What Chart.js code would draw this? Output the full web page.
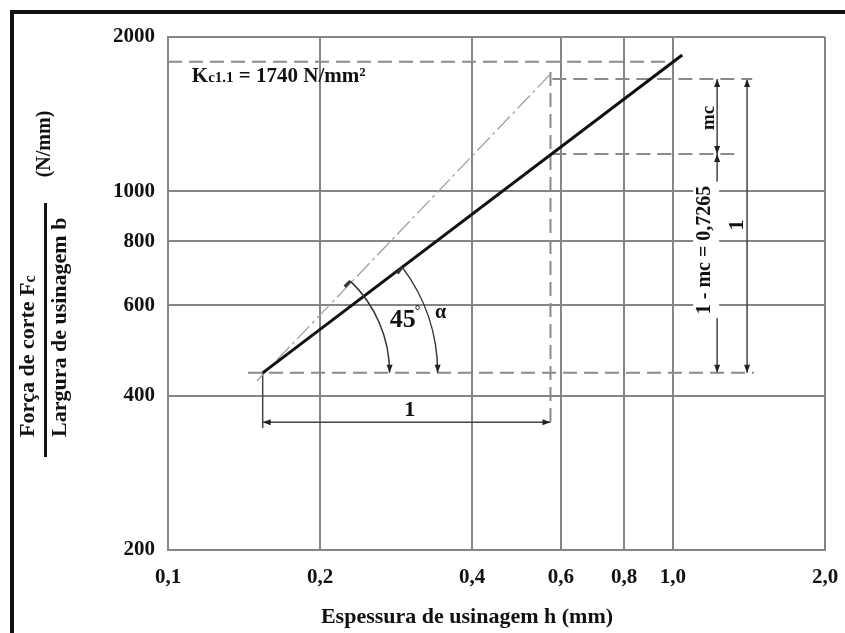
<!DOCTYPE html>
<html>
<head>
<meta charset="utf-8">
<script src="https://cdn.jsdelivr.net/npm/chart.js@4/dist/chart.umd.min.js"></script>
<style>
  html, body { margin: 0; padding: 0; background: #fff; }
  #wrap { width: 845px; height: 633px; }
</style>
</head>
<body>
<div id="wrap"><canvas id="chart" width="845" height="633"></canvas></div>
<script>
// axis ticks
const xTicks = [0.1, 0.2, 0.4, 0.6, 0.8, 1.0, 2.0];
const xTickLabels = ['0,1', '0,2', '0,4', '0,6', '0,8', '1,0', '2,0'];
const yTicks = [200, 400, 600, 800, 1000, 2000];

// main line  Fc/b vs h
const mainH = [0.154, 1.043];
const mainF = [443, 1845];
// 45 deg reference (dash-dot)
const refH = [0.150, 0.577];
const refF = [427, 1709];
// dashed helper lines
const kcH = [0.1, 1.0];        const kcF = [1790, 1790];
const upperH = [0.577, 1.435]; const upperF = [1657, 1657];
const midH = [0.577, 1.358];   const midF = [1183, 1183];
const baseH = [0.144, 1.447];  const baseF = [443, 443];
const vertH = [0.572, 0.572];  const vertF = [1709, 350];
// dimension lines
const dim1H = [1.223, 1.223];  const dim1F = [1657, 443];
const dim2H = [1.402, 1.402];  const dim2F = [1657, 443];
const dim3H = [0.154, 0.572];  const dim3F = [355, 355];
const extH = [0.154, 0.154];   const extF = [443, 346];

// arcs (end point on the base line) and arrows
const arc45End = 0.2747;
const arcAlphaEnd = 0.342;
const arrows = [ // [h, F, direction]
  [0.154, 355, 'left'], [0.572, 355, 'right'],
  [1.223, 1657, 'up'], [1.223, 1183, 'down'], [1.223, 1183, 'up'], [1.223, 443, 'down'],
  [1.402, 1657, 'up'], [1.402, 443, 'down']
];

// annotation texts: [text, h, F, font, rotated]
const notes = [
  ['mc', 1.18, 1391, 'bold 19px "Liberation Serif", serif', true],
  ['1', 1.339, 860, 'bold 22px "Liberation Serif", serif', true],
  ['1', 0.301, 375, 'bold 22px "Liberation Serif", serif', false],
  ['α', 0.3465, 579, 'bold 20px "Liberation Serif", serif', false]
];
const mcNote = ['1 - mc = 0,7265', 1.158, 769];
const degNote = [0.2915, 561];
const kcNote = [0.1115, 1634];

const pts = (xs, ys) => xs.map((v, i) => ({ x: v, y: ys[i] }));
const SERIF = '"Liberation Serif", "DejaVu Serif", serif';
const dashGray = '#8a8a8a';

function line(data, color, width, dash) {
  return {
    data: data, showLine: true, pointRadius: 0, borderColor: color,
    borderWidth: width, borderDash: dash || [], fill: false, tension: 0
  };
}

const extras = {
  id: 'extras',
  beforeDraw(chart) {
    const ctx = chart.ctx;
    ctx.save();
    ctx.fillStyle = '#fff';
    ctx.fillRect(0, 0, chart.width, chart.height);
    ctx.restore();
  },
  afterDatasetsDraw(chart) {
    const ctx = chart.ctx;
    const xs = chart.scales.x, ys = chart.scales.y;
    const X = v => xs.getPixelForValue(v), Y = v => ys.getPixelForValue(v);
    ctx.save();

    // arrows
    function arrow(x, y, dir) {
      const L = 8, W = 3;
      ctx.beginPath();
      ctx.moveTo(x, y);
      if (dir === 'left') { ctx.lineTo(x + L, y - W); ctx.lineTo(x + L, y + W); }
      if (dir === 'right') { ctx.lineTo(x - L, y - W); ctx.lineTo(x - L, y + W); }
      if (dir === 'up') { ctx.lineTo(x - W, y + L); ctx.lineTo(x + W, y + L); }
      if (dir === 'down') { ctx.lineTo(x - W, y - L); ctx.lineTo(x + W, y - L); }
      ctx.closePath();
      ctx.fill();
    }
    ctx.fillStyle = '#222';
    arrows.forEach(a => arrow(X(a[0]), Y(a[1]), a[2]));

    // angle arcs
    const cx = X(mainH[0]), cy = Y(mainF[0]);
    const lineAng = Math.atan2(Y(mainF[1]) - cy, X(mainH[1]) - cx);
    const refAng = Math.atan2(Y(refF[1]) - Y(refF[0]), X(refH[1]) - X(refH[0]));
    ctx.strokeStyle = '#333';
    ctx.lineWidth = 1.5;
    [[X(arc45End) - cx, refAng], [X(arcAlphaEnd) - cx, lineAng]].forEach(([r, a]) => {
      ctx.beginPath();
      ctx.arc(cx, cy, r, a, 0);
      ctx.stroke();
      arrow(cx + r, cy, 'down');
      // tick at the upper end
      const tx = cx + r * Math.cos(a), ty = cy + r * Math.sin(a);
      ctx.beginPath();
      ctx.lineWidth = 3;
      ctx.moveTo(tx, ty);
      ctx.lineTo(tx - 8 * Math.sin(-a), ty + 8 * Math.cos(a));
      ctx.stroke();
      ctx.lineWidth = 1.5;
    });

    // texts
    ctx.fillStyle = '#111';
    ctx.textAlign = 'center';
    ctx.textBaseline = 'middle';
    notes.forEach(n => {
      ctx.save();
      ctx.font = n[3];
      ctx.translate(X(n[1]), Y(n[2]));
      if (n[4]) ctx.rotate(-Math.PI / 2);
      ctx.fillText(n[0], 0, 0);
      ctx.restore();
    });

    // 1 - mc = 0,7265 on white
    ctx.save();
    ctx.translate(X(mcNote[1]), Y(mcNote[2]));
    ctx.rotate(-Math.PI / 2);
    ctx.font = 'bold 20px ' + SERIF;
    const w = ctx.measureText(mcNote[0]).width;
    ctx.fillStyle = '#fff';
    ctx.fillRect(-w / 2 - 4, -12, w + 8, 26);
    ctx.fillStyle = '#111';
    ctx.fillText(mcNote[0], 0, 0);
    ctx.restore();

    // 45°
    ctx.font = 'bold 26px ' + SERIF;
    ctx.fillText('45', X(degNote[0]), Y(degNote[1]));
    ctx.font = 'bold 14px ' + SERIF;
    ctx.fillText('°', X(degNote[0]) + 15, Y(degNote[1]) - 9);

    // Kc1.1 = 1740 N/mm²
    ctx.textAlign = 'left';
    ctx.textBaseline = 'alphabetic';
    let kx = X(kcNote[0]);
    const ky = Y(kcNote[1]);
    [['K', 21], ['c1.1', 15], [' = 1740 N/mm²', 21]].forEach(([t, s]) => {
      ctx.font = 'bold ' + s + 'px ' + SERIF;
      ctx.fillText(t, kx, ky);
      kx += ctx.measureText(t).width;
    });
    ctx.restore();
  },
  afterDraw(chart) {
    const ctx = chart.ctx;
    ctx.save();
    ctx.fillStyle = '#111';
    ctx.textBaseline = 'middle';
    // axis titles
    ctx.font = 'bold 22px ' + SERIF;
    ctx.textAlign = 'center';
    ctx.fillText('Espessura de usinagem h (mm)', 467, 617);

    function vtext(parts, x, y) {
      ctx.save();
      ctx.translate(x, y);
      ctx.rotate(-Math.PI / 2);
      ctx.textAlign = 'left';
      let p = 0;
      parts.forEach(([t, s, dy]) => {
        ctx.font = 'bold ' + s + 'px ' + SERIF;
        ctx.fillText(t, p, dy || 0);
        p += ctx.measureText(t).width;
      });
      ctx.restore();
    }
    vtext([['Força de corte F', 22], ['c', 16, 3]], 28, 437);
    vtext([['Largura de usinagem b', 22]], 60, 437);
    ctx.save();
    ctx.translate(45, 144);
    ctx.rotate(-Math.PI / 2);
    ctx.textAlign = 'center';
    ctx.font = 'bold 20px ' + SERIF;
    ctx.fillText('(N/mm)', 0, 0);
    ctx.restore();
    ctx.fillRect(44, 203, 3, 254);

    // outer frame
    ctx.fillRect(10, 10, 835, 4);
    ctx.fillRect(10, 10, 4, 623);
    ctx.restore();
  }
};

new Chart(document.getElementById('chart'), {
  type: 'scatter',
  data: {
    datasets: [
      line(pts(mainH, mainF), '#111', 3),
      line(pts(refH, refF), '#a0a0a0', 1.3, [18, 4, 3, 4]),
      line(pts(kcH, kcF), dashGray, 2, [14, 7]),
      line(pts(upperH, upperF), dashGray, 2, [14, 7]),
      line(pts(midH, midF), dashGray, 2, [14, 7]),
      line(pts(baseH, baseF), dashGray, 2, [14, 7]),
      line(pts(vertH, vertF), dashGray, 2, [14, 7]),
      line(pts(dim1H, dim1F), '#444', 1.5),
      line(pts(dim2H, dim2F), '#444', 1.5),
      line(pts(dim3H, dim3F), '#444', 1.5),
      line(pts(extH, extF), '#444', 1.5)
    ]
  },
  options: {
    responsive: false,
    animation: false,
    layout: { padding: { left: 0, right: 20, top: 37, bottom: 0 } },
    plugins: { legend: { display: false }, tooltip: { enabled: false } },
    scales: {
      x: {
        type: 'logarithmic', min: 0.1, max: 2,
        afterBuildTicks: s => { s.ticks = xTicks.map(v => ({ value: v })); },
        afterFit: s => { s.height = 83; s.paddingLeft = 0; s.paddingRight = 0; },
        ticks: {
          autoSkip: false, maxRotation: 0, padding: 15, color: '#111',
          font: { family: SERIF, size: 21, weight: 'bold' },
          callback: (v) => xTickLabels[xTicks.indexOf(v)] ?? ''
        },
        grid: { color: '#858585', lineWidth: 2, drawTicks: false },
        border: { display: true, color: '#858585', width: 2 }
      },
      y: {
        type: 'logarithmic', min: 200, max: 2000,
        afterBuildTicks: s => { s.ticks = yTicks.map(v => ({ value: v })); },
        afterFit: s => { s.width = 168; s.paddingTop = 0; s.paddingBottom = 0; },
        ticks: {
          autoSkip: false, padding: 13, color: '#111',
          font: { family: SERIF, size: 21, weight: 'bold' },
          callback: (v) => String(v)
        },
        grid: { color: '#858585', lineWidth: 2, drawTicks: false },
        border: { display: true, color: '#858585', width: 2 }
      }
    }
  },
  plugins: [extras]
});
</script>
</body>
</html>
